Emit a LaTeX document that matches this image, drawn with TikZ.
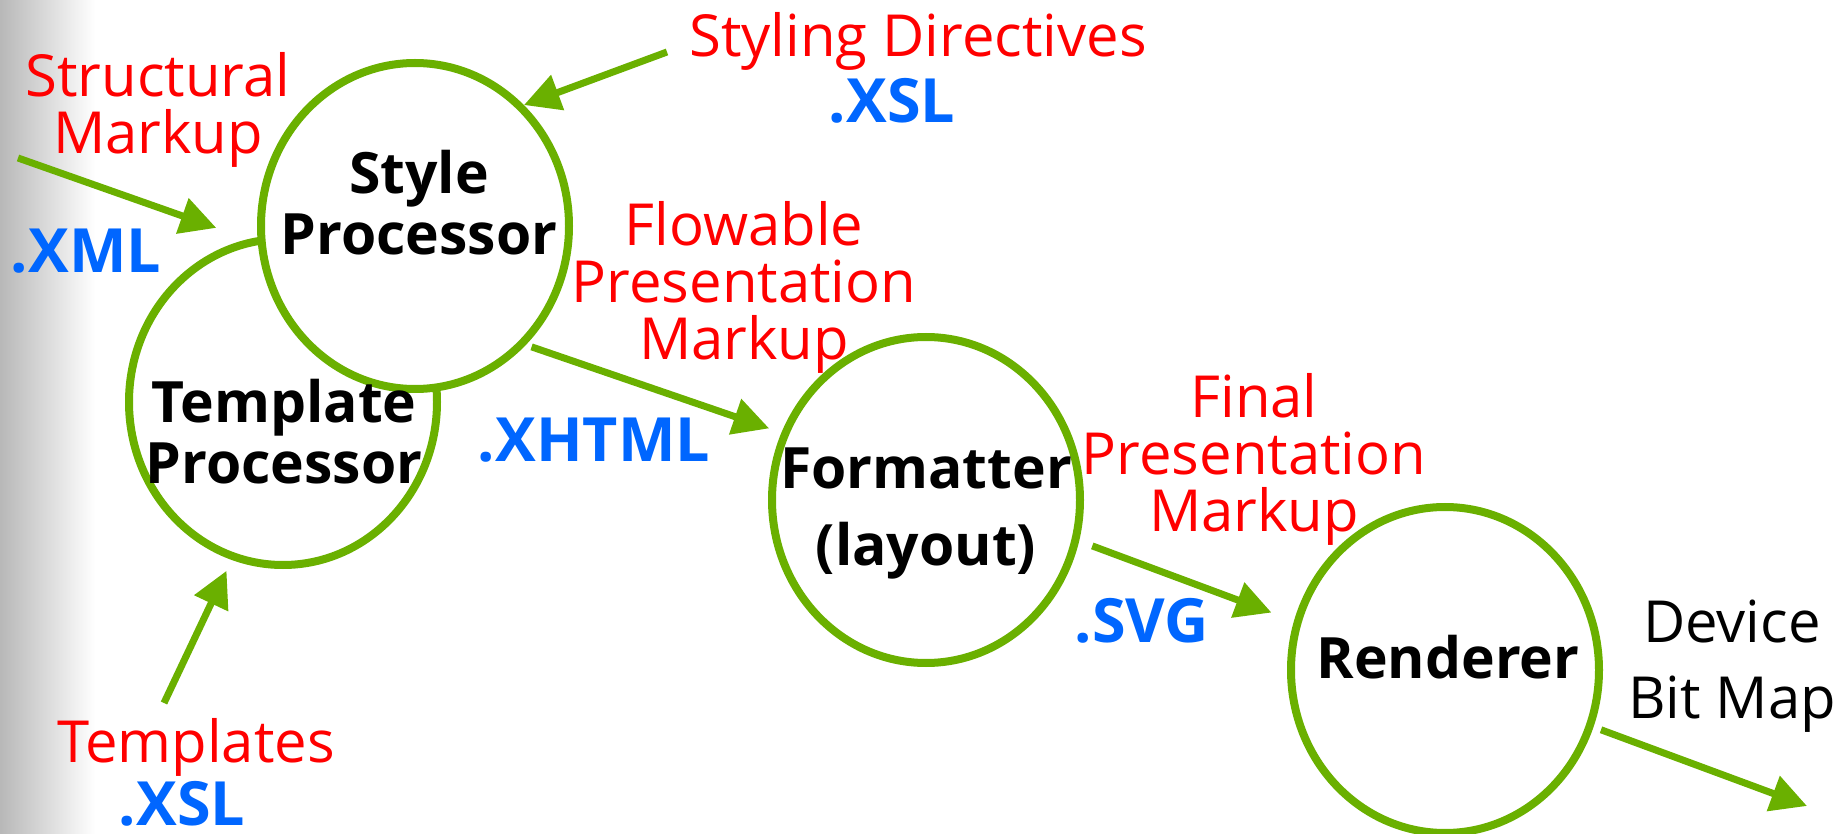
\documentclass[tikz,border=0pt]{standalone}
\usepackage{fontspec}
\setmainfont{Open Sans}
\usetikzlibrary{shapes.geometric,arrows.meta}
\definecolor{leaf}{RGB}{106,176,0}
\definecolor{ink}{RGB}{0,102,255}
\tikzset{
  proc/.style={ellipse,draw=leaf,line width=4pt,fill=white,minimum width=154pt,minimum height=163pt,inner sep=0pt},
  feed/.style={draw=leaf,line width=3.5pt,-{Triangle[length=18pt,width=18pt]}},
  title/.style={font=\bfseries\fontsize{28.5}{30.5}\selectfont,align=center,anchor=base,inner sep=0pt},
  markup/.style={text=red,font=\fontsize{29}{28.5}\selectfont,align=center,anchor=base,inner sep=0pt},
  ext/.style={text=ink,font=\bfseries\fontsize{30.5}{30}\selectfont,anchor=base,inner sep=0pt}
}
\begin{document}
\begin{tikzpicture}[x=0.5pt,y=-0.5pt]
	\useasboundingbox (0,0) rectangle (1844,834);
	\shade[left color=black!28,right color=white] (0,0) rectangle (95,834);
	% the four processors
	\node[proc] (tpl) at (283,402) {};
	\node[proc] (style) at (415,226) {};
	\node[proc] (fmt) at (926,500) {};
	\node[proc] (rend) at (1445,670) {};
	\node[title] (tpltxt) at (284,483) {Template\\Processor};
	\node[title] (styletxt) at (419,255) {Style\\Processor};
	\node[title] (fmttxt) at (926,565) {Formatter\\[8pt](layout)};
	\node[title] (rendtxt) at (1448,678) {Renderer};
	% inputs and outputs
	\node[markup] (structural) at (158,154) {Structural\\Markup};
	\node[ext] (xml) at (86,273) {.XML};
	\node[markup] (styling) at (918,57) {Styling Directives};
	\node[ext] (xslstyle) at (892,123) {.XSL};
	\node[markup] (templates) at (196,762) {Templates};
	\node[ext] (xsltpl) at (182,825) {.XSL};
	\node[markup] (flowable) at (744,360) {Flowable\\Presentation\\Markup};
	\node[ext] (xhtml) at (594,462) {.XHTML};
	\node[markup] (final) at (1254,531) {Final\\Presentation\\Markup};
	\node[ext] (svg) at (1142,642) {.SVG};
	\node[markup,text=black] (device) at (1732,718) {Device\\[9.5pt]Bit Map};
	% connectors
	\coordinate (smin) at (18,158);
	\coordinate (sdin) at (667,52);
	\coordinate (tin) at (164,703);
	\coordinate (bmout) at (1807,806);
	\draw[feed,shorten >=22pt] (smin) -- (style.186);
	\draw[feed] (sdin) -- (style.48);
	\draw[feed,shorten >=6pt] (tin) -- (tpl.252);
	\draw[feed,shorten <=3pt,shorten >=6.5pt] (style.-47.5) -- (fmt.155);
	\draw[feed,shorten <=7pt,shorten >=12pt] (fmt.-15) -- (rend.162);
	\draw[feed,shorten <=4pt] (rend.-21.6) -- (bmout);
\end{tikzpicture}
\end{document}
